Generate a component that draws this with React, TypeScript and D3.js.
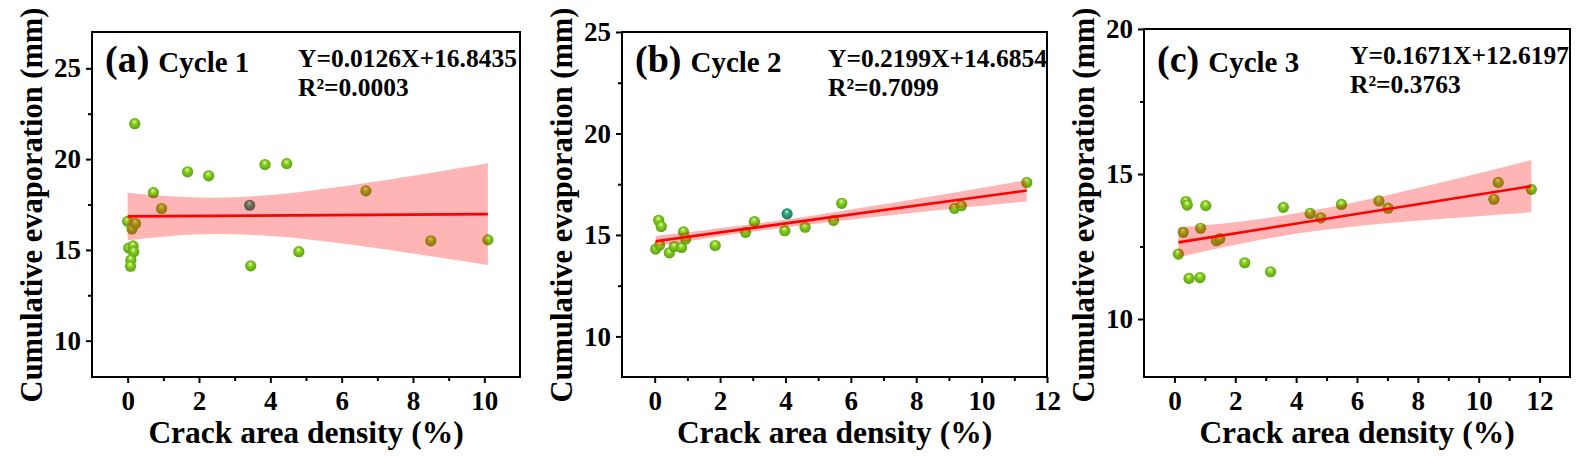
import { useEffect, useRef } from "react"
import * as d3 from "d3"

type Pt = [number, number]
type BandRow = [number, number, number] // x, lower, upper

// ---- panel (a) Cycle 1
const aPoints: Pt[] = [
  [0.0, 16.57], [0.12, 16.15], [0.22, 16.45], [0.2, 21.95], [0.72, 18.15], [0.95, 17.28],
  [1.68, 19.3], [2.27, 19.08], [3.42, 17.46], [3.85, 19.7], [4.46, 19.75], [6.68, 18.25],
  [0.03, 15.1], [0.15, 15.22], [0.17, 14.9], [0.09, 14.45], [0.08, 14.1],
  [3.45, 14.12], [4.8, 14.9], [8.5, 15.5], [10.1, 15.55],
]
const aTeal = [8]
const aBand: BandRow[] = [
  [0.0, 15.53, 18.15], [1.2, 15.77, 17.95], [2.46, 15.87, 17.87], [3.7, 15.8, 17.98],
  [5.0, 15.59, 18.23], [6.5, 15.23, 18.63], [8.0, 14.8, 19.08], [10.1, 14.17, 19.77],
]
const aFit = { slope: 0.0126, intercept: 16.8435 }

// ---- panel (b) Cycle 2
const bPoints: Pt[] = [
  [0.03, 14.3], [0.12, 15.72], [0.2, 15.42], [0.15, 14.5], [0.45, 14.12], [0.6, 14.43],
  [0.82, 14.38], [0.88, 15.15], [0.95, 14.8], [1.85, 14.48], [2.78, 15.13], [3.05, 15.66],
  [3.98, 15.21], [4.05, 16.04], [4.6, 15.38], [5.47, 15.72], [5.72, 16.56], [9.17, 16.31],
  [9.38, 16.44], [11.38, 17.58],
]
const bTeal = [13]
const bBand: BandRow[] = [
  [0.03, 14.43, 14.95], [1.5, 14.81, 15.23], [3.15, 15.19, 15.57], [5.0, 15.56, 16.0],
  [7.0, 15.93, 16.51], [9.0, 16.28, 17.04], [11.38, 16.65, 17.71],
]
const bFit = { slope: 0.2199, intercept: 14.6854 }

// ---- panel (c) Cycle 3
const cPoints: Pt[] = [
  [0.13, 12.24], [0.29, 12.99], [0.38, 14.05], [0.42, 13.93], [0.48, 11.4], [0.84, 11.43],
  [0.86, 13.13], [1.03, 13.91], [1.38, 12.7], [1.49, 12.77], [2.31, 11.94], [3.16, 11.63],
  [3.58, 13.85], [4.46, 13.64], [4.81, 13.49], [5.49, 13.95], [6.72, 14.07], [7.02, 13.82],
  [10.5, 14.13], [10.64, 14.71], [11.73, 14.47],
]
const cTeal: number[] = []
const cBand: BandRow[] = [
  [0.13, 12.12, 13.16], [1.0, 12.34, 13.24], [2.0, 12.56, 13.34], [3.7, 12.89, 13.59],
  [6.0, 13.2, 14.04], [9.0, 13.47, 14.77], [11.73, 13.68, 15.48],
]
const cFit = { slope: 0.1671, intercept: 12.6197 }

const panelTags = ["(a)", "(b)", "(c)"]
const panelCycles = ["Cycle 1", "Cycle 2", "Cycle 3"]
const panelEquations = ["Y=0.0126X+16.8435", "Y=0.2199X+14.6854", "Y=0.1671X+12.6197"]
const panelR2 = ["R²=0.0003", "R²=0.7099", "R²=0.3763"]

const xDomains: [number, number][] = [[-1, 11], [-1, 12], [-1, 13]]
const yDomains: [number, number][] = [[8, 27], [8, 25], [8, 20]]
const xTickValues = [[0, 2, 4, 6, 8, 10], [0, 2, 4, 6, 8, 10, 12], [0, 2, 4, 6, 8, 10, 12]]
const yTickValues = [[10, 15, 20, 25], [10, 15, 20, 25], [10, 15, 20]]

const xTitle = "Crack area density (%)"
const yTitle = "Cumulative evaporation (mm)"

const FONT = "'Liberation Serif', 'Times New Roman', serif"

const boxes = [
  { left: 92, right: 520, top: 32, bottom: 377 },
  { left: 622, right: 1047, top: 32, bottom: 377 },
  { left: 1144, right: 1570, top: 29, bottom: 377 },
]

const panels = [
  { points: aPoints, band: aBand, fit: aFit, special: aTeal },
  { points: bPoints, band: bBand, fit: bFit, special: bTeal },
  { points: cPoints, band: cBand, fit: cFit, special: cTeal },
]

function addGradient(defs: d3.Selection<SVGDefsElement, unknown, null, undefined>, id: string, stops: string[]) {
  const g = defs
    .append("radialGradient")
    .attr("id", id)
    .attr("cx", "50%")
    .attr("cy", "50%")
    .attr("r", "55%")
    .attr("fx", "45%")
    .attr("fy", "28%")
  const offs = [0, 0.18, 0.45, 0.85, 1]
  stops.forEach((c, i) => g.append("stop").attr("offset", offs[i]).attr("stop-color", c))
}

export default function App() {
  const svgRef = useRef<SVGSVGElement>(null)

  useEffect(() => {
    if (!svgRef.current) return
    const svg = d3.select(svgRef.current)
    svg.selectAll("*").remove()

    const defs = svg.append("defs")
    addGradient(defs, "ball", ["#f4ffe4", "#b6e85a", "#82c820", "#62a812", "#4c8a08"])
    addGradient(defs, "ballTeal", ["#e4fff4", "#6cd0a8", "#2e9e7c", "#1f8060", "#186a50"])

    panels.forEach((p, i) => {
      const box = boxes[i]
      const x = d3.scaleLinear().domain(xDomains[i]).range([box.left, box.right])
      const y = d3.scaleLinear().domain(yDomains[i]).range([box.bottom, box.top])
      const g = svg.append("g")

      // 점
      g.selectAll("circle.pt")
        .data(p.points)
        .enter()
        .append("circle")
        .attr("class", "pt")
        .attr("cx", (d) => x(d[0]))
        .attr("cy", (d) => y(d[1]))
        .attr("r", 5.6)
        .attr("fill", (_d, j) => (p.special.includes(j) ? "url(#ballTeal)" : "url(#ball)"))

      // 신뢰구간 (점 위에 반투명)
      const area = d3
        .area<BandRow>()
        .x((d) => x(d[0]))
        .y0((d) => y(d[1]))
        .y1((d) => y(d[2]))
        .curve(d3.curveNatural)
      g.append("path").datum(p.band).attr("fill", "#ff0000").attr("fill-opacity", 0.29).attr("d", area)

      // 회귀선
      const xs = d3.extent(p.band, (d) => d[0]) as [number, number]
      const line = d3
        .line<number>()
        .x((d) => x(d))
        .y((d) => y(p.fit.slope * d + p.fit.intercept))
      g.append("path").datum(xs).attr("fill", "none").attr("stroke", "#ff0000").attr("stroke-width", 2.6).attr("d", line)

      // 테두리
      g.append("rect")
        .attr("x", box.left)
        .attr("y", box.top)
        .attr("width", box.right - box.left)
        .attr("height", box.bottom - box.top)
        .attr("fill", "none")
        .attr("stroke", "#000")
        .attr("stroke-width", 2)

      // 축
      const [x0, x1] = xDomains[i]
      const xMinor = d3.range(Math.ceil(x0), x1 + 0.001, 1).filter((v) => v % 2 !== 0 && v > x0 && v < x1)
      const [y0, y1] = yDomains[i]
      const yMinor = d3.range(7.5, y1, 5).filter((v) => v > y0 && v < y1)

      const styleAxis = (sel: d3.Selection<SVGGElement, unknown, null, undefined>) => {
        sel.select(".domain").remove()
        sel.selectAll(".tick line").attr("stroke", "#000").attr("stroke-width", 2)
        sel.selectAll(".tick text")
          .attr("fill", "#000")
          .style("font-family", FONT)
          .style("font-weight", "bold")
          .style("font-size", "27px")
      }

      const xAxis = g.append("g").attr("transform", `translate(0,${box.bottom})`)
      xAxis.call(d3.axisBottom(x).tickValues(xTickValues[i]).tickSize(6).tickPadding(8).tickFormat(d3.format("d")))
      styleAxis(xAxis)
      xAxis.selectAll(".tick text").attr("dy", "0.71em")

      const xAxisMinor = g.append("g").attr("transform", `translate(0,${box.bottom})`)
      xAxisMinor.call(d3.axisBottom(x).tickValues(xMinor).tickSize(4).tickFormat(() => ""))
      styleAxis(xAxisMinor)

      const yAxis = g.append("g").attr("transform", `translate(${box.left},0)`)
      yAxis.call(d3.axisLeft(y).tickValues(yTickValues[i]).tickSize(6).tickPadding(5).tickFormat(d3.format("d")))
      styleAxis(yAxis)

      const yAxisMinor = g.append("g").attr("transform", `translate(${box.left},0)`)
      yAxisMinor.call(d3.axisLeft(y).tickValues(yMinor).tickSize(4).tickFormat(() => ""))
      styleAxis(yAxisMinor)

      // 축 레이블
      g.append("text")
        .attr("x", (box.left + box.right) / 2)
        .attr("y", 443)
        .attr("text-anchor", "middle")
        .style("font-family", FONT)
        .style("font-weight", "bold")
        .style("font-size", "31.5px")
        .text(xTitle)

      g.append("text")
        .attr("transform", "rotate(-90)")
        .attr("x", -205)
        .attr("y", box.left - 50)
        .attr("text-anchor", "middle")
        .style("font-family", FONT)
        .style("font-weight", "bold")
        .style("font-size", "30.5px")
        .text(yTitle)

      // 패널 라벨
      const label = g.append("text")
        .attr("x", box.left + 13)
        .attr("y", 72)
        .style("font-family", FONT)
        .style("font-weight", "bold")
      label.append("tspan").style("font-size", "38px").text(panelTags[i])
      label.append("tspan").attr("dx", 9).style("font-size", "29px").text(panelCycles[i])

      // 회귀식
      const eq = g.append("g").style("font-family", FONT).style("font-weight", "bold").style("font-size", "25.5px")
      eq.append("text").attr("x", box.left + 206).attr("y", box.top + 35).text(panelEquations[i])
      eq.append("text").attr("x", box.left + 206).attr("y", box.top + 64).text(panelR2[i])
    })
  }, [])

  return (
    <svg
      ref={svgRef}
      width={1589}
      height={464}
      style={{ position: "absolute", left: 0, top: 0, background: "#fff" }}
    />
  )
}
